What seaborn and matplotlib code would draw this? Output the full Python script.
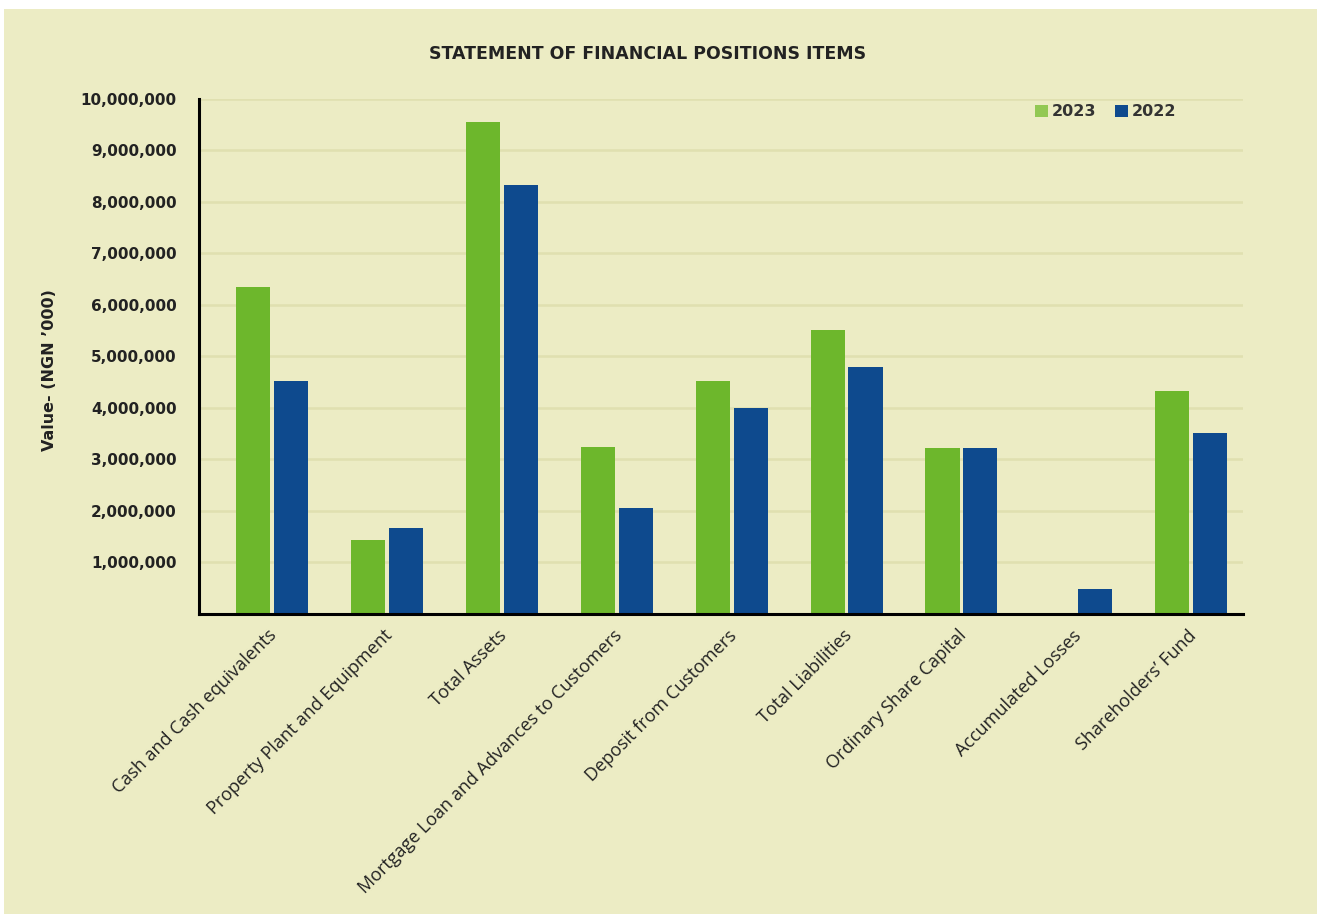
import matplotlib
matplotlib.use("Agg")
import matplotlib.pyplot as plt
from matplotlib.patches import Rectangle, Patch
from matplotlib.ticker import FuncFormatter, MultipleLocator
from matplotlib.transforms import ScaledTranslation
import pandas as pd
import seaborn as sns

categories = [
    "Cash and Cash equivalents",
    "Property Plant and Equipment",
    "Total Assets",
    "Mortgage Loan and Advances to Customers",
    "Deposit from Customers",
    "Total Liabilities",
    "Ordinary Share Capital",
    "Accumulated Losses",
    "Shareholders’ Fund",
]
values_2023 = [6340000, 1435000, 9540000, 3240000, 4520000, 5510000, 3220000, 0, 4330000]
values_2022 = [4520000, 1670000, 8320000, 2060000, 4000000, 4790000, 3220000, 485000, 3510000]
years = ["2023", "2022"]

df = pd.DataFrame({
    "Item": categories * 2,
    "Year": [years[0]] * len(categories) + [years[1]] * len(categories),
    "Value": values_2023 + values_2022,
})

BG = "#ECECC4"
GREEN = "#6DB72C"
BLUE = "#0E4A8E"
TEXT = "#222222"

sns.set_theme(style="white")
plt.rcParams["font.family"] = ["DejaVu Sans"]

fig = plt.figure(figsize=(13.17, 9.15), dpi=100, facecolor="white")
fig.patches.append(Rectangle((4 / 1317, 0.001), 1 - 4 / 1317, 1 - 9 / 915 - 0.001,
                             transform=fig.transFigure, facecolor=BG,
                             edgecolor="none", zorder=-10))

ax = fig.add_axes([199 / 1317, 1 - 614 / 915, (1243 - 199) / 1317, (614 - 98.7) / 915])
ax.set_facecolor(BG)

sns.barplot(data=df, x="Item", y="Value", hue="Year", hue_order=years,
            palette=[GREEN, BLUE], width=0.66, gap=0.1, saturation=1,
            linewidth=0, legend=False, ax=ax, zorder=3)

ax.set_ylim(0, 10000000)
ax.set_xlim(-0.635, 8.45)
ax.yaxis.set_major_locator(MultipleLocator(1000000))
ax.yaxis.set_major_formatter(FuncFormatter(lambda v, p: "" if v == 0 else f"{int(v):,}"))
ax.set_axisbelow(True)
ax.grid(axis="y", color="#E0E0B0", linewidth=1.8)
ax.grid(axis="x", visible=False)

for side in ["top", "right"]:
    ax.spines[side].set_visible(False)
for side in ["left", "bottom"]:
    ax.spines[side].set_color("black")
    ax.spines[side].set_linewidth(2.2)
    ax.spines[side].set_zorder(5)

ax.tick_params(axis="y", length=0, pad=16, labelsize=11, labelcolor=TEXT)
for t in ax.get_yticklabels():
    t.set_fontweight("bold")
ax.tick_params(axis="x", length=0, pad=9, labelcolor=TEXT)
ax.set_xticks(range(len(categories)))
ax.set_xticklabels(categories, rotation=45, ha="right", rotation_mode="anchor",
                   fontsize=13, family=["Open Sans", "DejaVu Sans"])
shift = ScaledTranslation(-0.04, 0, fig.dpi_scale_trans)
for t in ax.get_xticklabels():
    t.set_transform(t.get_transform() + shift)

ax.set_xlabel("")
ax.set_ylabel("Value- (NGN ’000)", fontsize=11.5, fontweight="bold", color=TEXT)
ax.yaxis.set_label_coords((57 - 199) / 1044, (614 - 370) / 515.3)

fig.text(648 / 1317, 1 - 54 / 915, "STATEMENT OF FINANCIAL POSITIONS ITEMS",
         ha="center", va="center", fontsize=12.5, fontweight="bold", color=TEXT)

handles = [Patch(facecolor="#92C853", edgecolor="none"), Patch(facecolor=BLUE, edgecolor="none")]
ax.legend(handles, years, loc="center left", bbox_to_anchor=((1035 - 199) / 1044, (614 - 112) / 515.3),
          ncol=2, frameon=False, borderpad=0, borderaxespad=0,
          handlelength=0.8, handleheight=0.8, handletextpad=0.25,
          columnspacing=1.2, prop={"weight": "bold", "size": 11.5})
for t in ax.get_legend().get_texts():
    t.set_color("#333333")

fig.savefig("out.png", dpi=100, facecolor="white")
